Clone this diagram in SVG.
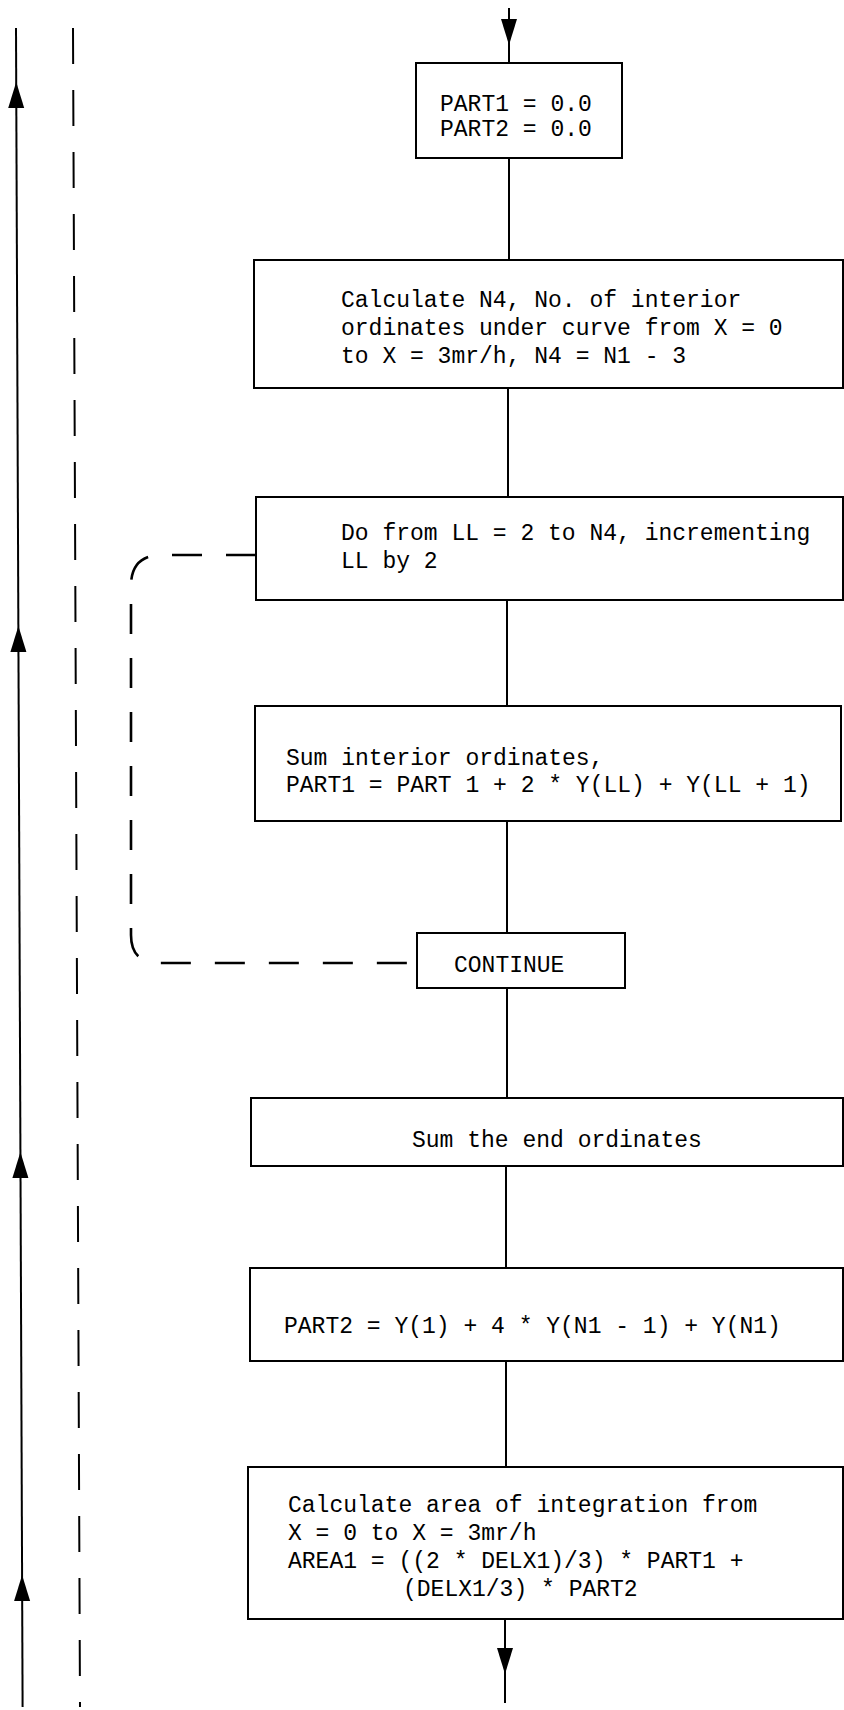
<svg xmlns="http://www.w3.org/2000/svg" width="844" height="1710" viewBox="0 0 844 1710">
<style>
.box{fill:#fff;stroke:#000;stroke-width:2}
.t{font-family:"Liberation Mono","DejaVu Sans Mono",monospace;font-size:23px;fill:#000}
.ln{fill:none;stroke:#000;stroke-width:2}
.dl{fill:none;stroke:#000;stroke-width:2;stroke-dasharray:36 26}
.lp{fill:none;stroke:#000;stroke-width:2.6;stroke-dasharray:30 24}
.ah{fill:#000}
</style>
<defs>
<polygon id="up" points="0,0 8,26 -8,26"/>
<polygon id="down" points="0,0 8,-26 -8,-26"/>
</defs>
<rect width="844" height="1710" fill="#fff"/>
<g id="connectors">
<line class="ln" x1="16" y1="28" x2="22.6" y2="1707"/>
<line class="dl" x1="73" y1="28" x2="80" y2="1707"/>
<use href="#up" class="ah" x="16.2" y="82"/>
<use href="#up" class="ah" x="18.4" y="626"/>
<use href="#up" class="ah" x="20.4" y="1152"/>
<use href="#up" class="ah" x="22.1" y="1575"/>
<line class="ln" x1="509" y1="8" x2="509" y2="63"/>
<use href="#down" class="ah" x="509" y="45"/>
<line class="ln" x1="509" y1="158" x2="509" y2="260"/>
<line class="ln" x1="508" y1="388" x2="508" y2="497"/>
<line class="ln" x1="507" y1="600" x2="507" y2="706"/>
<line class="ln" x1="507" y1="821" x2="507" y2="933"/>
<line class="ln" x1="507" y1="988" x2="507" y2="1098"/>
<line class="ln" x1="506" y1="1166" x2="506" y2="1268"/>
<line class="ln" x1="506" y1="1361" x2="506" y2="1467"/>
<line class="ln" x1="505" y1="1619" x2="505" y2="1703"/>
<use href="#down" class="ah" x="505" y="1674"/>
<path class="lp" d="M 256 555 H 162 Q 131 555 131 586 V 935 Q 131 963 159 963 H 417"/>
</g>
<g id="n1">
<rect class="box" x="416" y="63" width="206" height="95"/>
<text class="t" x="440" y="111">PART1 = 0.0</text>
<text class="t" x="440" y="136">PART2 = 0.0</text>
</g>
<g id="n2">
<rect class="box" x="254" y="260" width="589" height="128"/>
<text class="t" x="341" y="307">Calculate N4, No. of interior</text>
<text class="t" x="341" y="335">ordinates under curve from X = 0</text>
<text class="t" x="341" y="363">to X = 3mr/h, N4 = N1 - 3</text>
</g>
<g id="n3">
<rect class="box" x="256" y="497" width="587" height="103"/>
<text class="t" x="341" y="540">Do from LL = 2 to N4, incrementing</text>
<text class="t" x="341" y="568">LL by 2</text>
</g>
<g id="n4">
<rect class="box" x="255" y="706" width="586" height="115"/>
<text class="t" x="286" y="765">Sum interior ordinates,</text>
<text class="t" x="286" y="792">PART1 = PART 1 + 2 * Y(LL) + Y(LL + 1)</text>
</g>
<g id="n5">
<rect class="box" x="417" y="933" width="208" height="55"/>
<text class="t" x="454" y="972">CONTINUE</text>
</g>
<g id="n6">
<rect class="box" x="251" y="1098" width="592" height="68"/>
<text class="t" x="412" y="1147">Sum the end ordinates</text>
</g>
<g id="n7">
<rect class="box" x="250" y="1268" width="593" height="93"/>
<text class="t" x="284" y="1333">PART2 = Y(1) + 4 * Y(N1 - 1) + Y(N1)</text>
</g>
<g id="n8">
<rect class="box" x="248" y="1467" width="595" height="152"/>
<text class="t" x="288" y="1512">Calculate area of integration from</text>
<text class="t" x="288" y="1540">X = 0 to X = 3mr/h</text>
<text class="t" x="288" y="1568">AREA1 = ((2 * DELX1)/3) * PART1 +</text>
<text class="t" x="403" y="1596">(DELX1/3) * PART2</text>
</g>
</svg>
